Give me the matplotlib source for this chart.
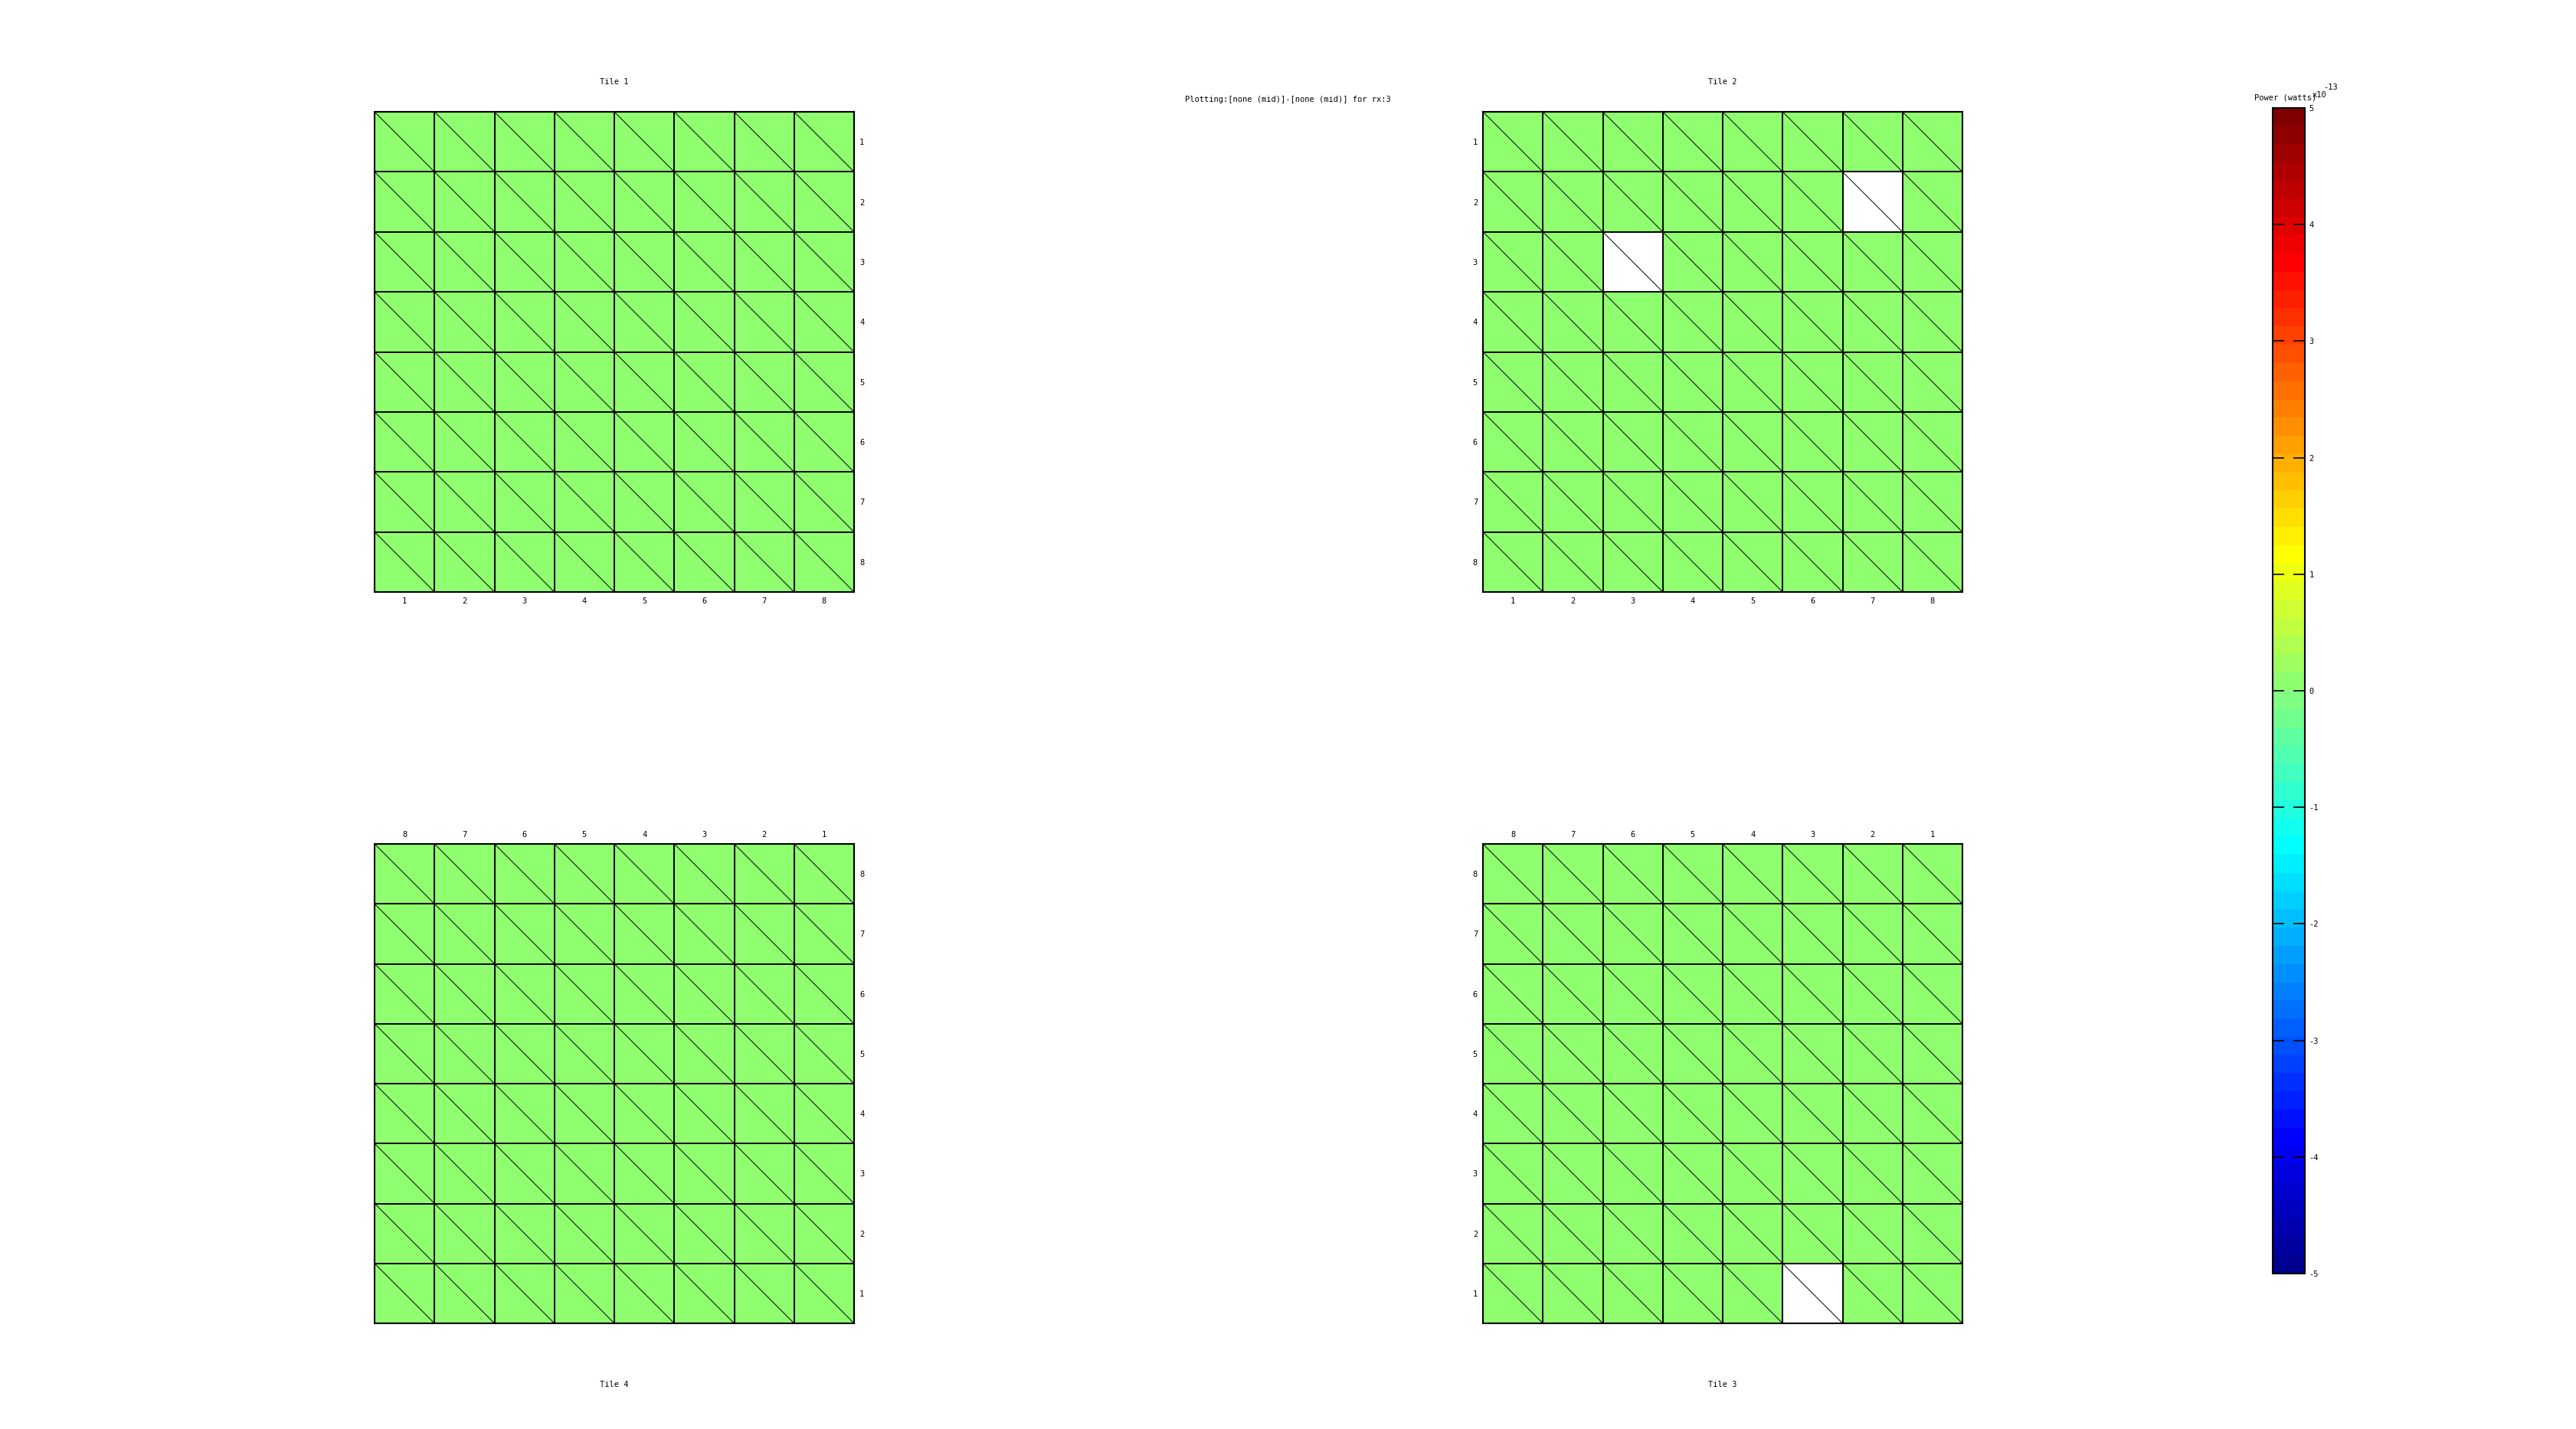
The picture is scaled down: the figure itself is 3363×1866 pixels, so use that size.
#!/usr/bin/env python3
"""Per-tile power map (4 tiles of 8x8 triangulated cells) with a shared jet colour bar."""
import numpy as np
import matplotlib
matplotlib.use("Agg")
import matplotlib.pyplot as plt
from matplotlib.colors import Normalize, ListedColormap

nan = np.nan

TITLE = "Plotting:[none (mid)]-[none (mid)] for rx:3"
CBAR_LABEL = "Power (watts)"
CBAR_EXP = "-13"
VMIN, VMAX = -5, 5              # colour range, units of 1e-13 W
CBAR_TICKS = [-5, -4, -3, -2, -1, 0, 1, 2, 3, 4, 5]
CELL_IDX = [1, 2, 3, 4, 5, 6, 7, 8]

# power per cell, row k is y=k+1, column k is x=k+1 (units 1e-13 W); nan = no sample
tile1 = [[0, 0, 0, 0, 0, 0, 0, 0],
         [0, 0, 0, 0, 0, 0, 0, 0],
         [0, 0, 0, 0, 0, 0, 0, 0],
         [0, 0, 0, 0, 0, 0, 0, 0],
         [0, 0, 0, 0, 0, 0, 0, 0],
         [0, 0, 0, 0, 0, 0, 0, 0],
         [0, 0, 0, 0, 0, 0, 0, 0],
         [0, 0, 0, 0, 0, 0, 0, 0]]
tile2 = [[0, 0, 0, 0, 0, 0, 0, 0],
         [0, 0, 0, 0, 0, 0, nan, 0],
         [0, 0, nan, 0, 0, 0, 0, 0],
         [0, 0, 0, 0, 0, 0, 0, 0],
         [0, 0, 0, 0, 0, 0, 0, 0],
         [0, 0, 0, 0, 0, 0, 0, 0],
         [0, 0, 0, 0, 0, 0, 0, 0],
         [0, 0, 0, 0, 0, 0, 0, 0]]
tile3 = [[0, 0, nan, 0, 0, 0, 0, 0],
         [0, 0, 0, 0, 0, 0, 0, 0],
         [0, 0, 0, 0, 0, 0, 0, 0],
         [0, 0, 0, 0, 0, 0, 0, 0],
         [0, 0, 0, 0, 0, 0, 0, 0],
         [0, 0, 0, 0, 0, 0, 0, 0],
         [0, 0, 0, 0, 0, 0, 0, 0],
         [0, 0, 0, 0, 0, 0, 0, 0]]
tile4 = [[0, 0, 0, 0, 0, 0, 0, 0],
         [0, 0, 0, 0, 0, 0, 0, 0],
         [0, 0, 0, 0, 0, 0, 0, 0],
         [0, 0, 0, 0, 0, 0, 0, 0],
         [0, 0, 0, 0, 0, 0, 0, 0],
         [0, 0, 0, 0, 0, 0, 0, 0],
         [0, 0, 0, 0, 0, 0, 0, 0],
         [0, 0, 0, 0, 0, 0, 0, 0]]

W, H = 3363, 1866
FONT = 7.5
plt.rcParams["font.family"] = ["DejaVu Sans Mono"]
plt.rcParams["axes.unicode_minus"] = False

# octave/matlab style jet(64), darker ends than matplotlib's jet
_x = np.arange(1, 65) / 64.0
cmap = ListedColormap(np.clip(np.column_stack([1.5 - np.abs(4 * _x - 3),
                                               1.5 - np.abs(4 * _x - 2),
                                               1.5 - np.abs(4 * _x - 1)]), 0, 1))
norm = Normalize(VMIN, VMAX)


def px_box(x0, y0, x1, y1):
    return [x0 / W, 1 - y1 / H, (x1 - x0) / W, (y1 - y0) / H]


def draw_tile(fig, box, data, name, flipped, yside, title_y):
    ax = fig.add_axes(px_box(*box))
    vals = np.ma.masked_invalid(np.array(data, dtype=float))
    edges = np.arange(0.5, 9.5, 1.0)
    mesh = ax.pcolormesh(edges, edges, vals, cmap=cmap, norm=norm, shading="flat")
    for e in edges[1:-1]:
        ax.axvline(e, color="black", lw=1.4)
        ax.axhline(e, color="black", lw=1.4)
    for i in CELL_IDX:
        for j in CELL_IDX:
            ax.plot([i - 0.5, i + 0.5], [j - 0.5, j + 0.5], color="black", lw=0.7)
    if flipped:
        ax.set_xlim(8.5, 0.5); ax.set_ylim(0.5, 8.5)
        ax.xaxis.tick_top()
    else:
        ax.set_xlim(0.5, 8.5); ax.set_ylim(8.5, 0.5)
    if yside == "right":
        ax.yaxis.tick_right()
    ax.set_xticks(CELL_IDX); ax.set_yticks(CELL_IDX)
    ax.tick_params(length=0, labelsize=FONT, pad=5)
    for s in ax.spines.values():
        s.set_linewidth(1.5)
    fig.text((box[0] + box[2]) / 2 / W, 1 - title_y / H, name,
             ha="center", va="center", fontsize=FONT)
    return mesh


fig = plt.figure(figsize=(W / 100, H / 100), dpi=100)
mesh = draw_tile(fig, (489, 146, 1115, 773), tile1, "Tile 1", False, "right", 107)
draw_tile(fig, (1936, 146, 2562, 773), tile2, "Tile 2", False, "left", 107)
draw_tile(fig, (489, 1102, 1115, 1728), tile4, "Tile 4", True, "right", 1808)
draw_tile(fig, (1936, 1102, 2562, 1728), tile3, "Tile 3", True, "left", 1808)

fig.text(0.5, 1 - 130 / H, TITLE, ha="center", va="center", fontsize=FONT)

cax = fig.add_axes(px_box(2967, 141, 3009, 1663))
cb = fig.colorbar(mesh, cax=cax, ticks=CBAR_TICKS)
cb.outline.set_linewidth(1.5)
cax.tick_params(direction="in", left=True, right=True, length=11, width=1.2,
                labelsize=FONT, pad=4)
fig.text(2984 / W, 1 - 128 / H, CBAR_LABEL, ha="center", va="center", fontsize=FONT)
fig.text(3019 / W, 1 - 124 / H, "x10", ha="left", va="center", fontsize=FONT)
fig.text(3033 / W, 1 - 114 / H, CBAR_EXP, ha="left", va="center", fontsize=FONT)

fig.savefig("out.png", dpi=100)
